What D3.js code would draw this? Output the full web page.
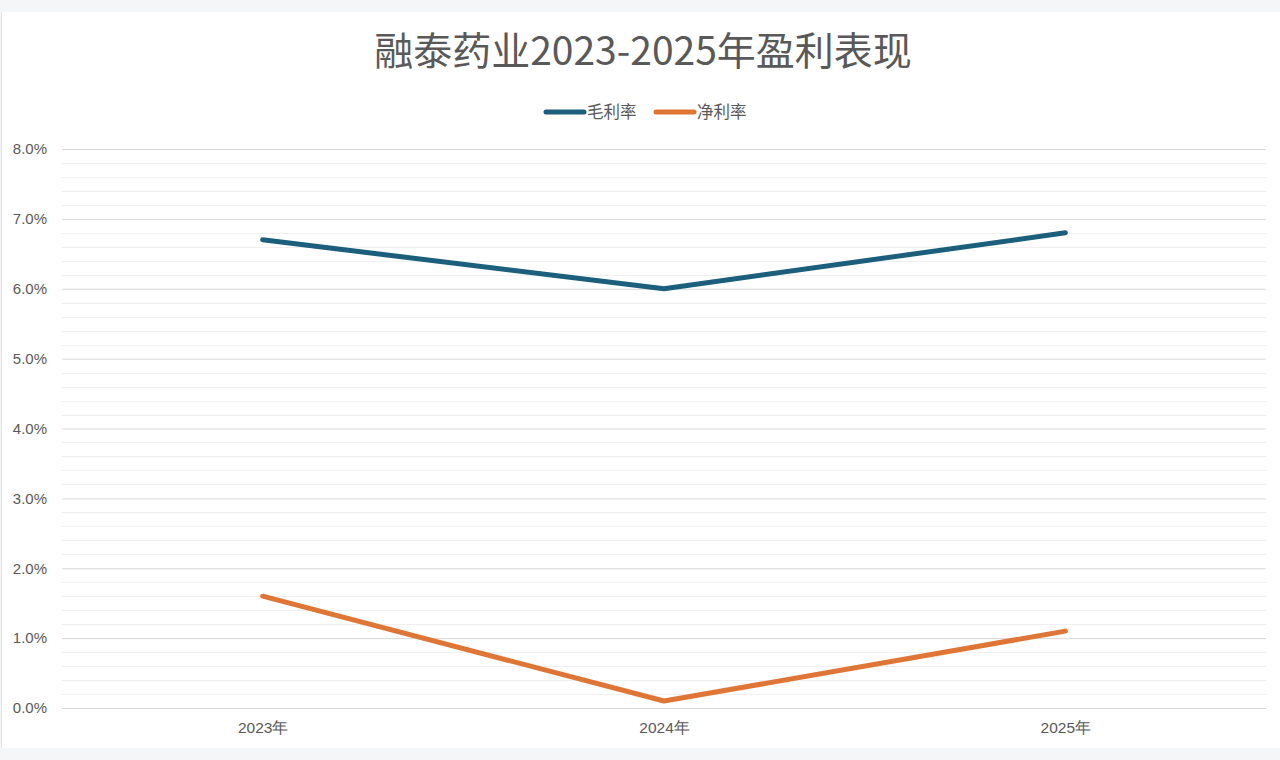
<!DOCTYPE html>
<html>
<head>
<meta charset="utf-8">
<script src="https://cdn.jsdelivr.net/npm/d3@7"></script>
<style>
  html, body { margin: 0; padding: 0; background: #f5f6f8; }
  svg { display: block; font-family: "Noto Sans CJK SC", "Noto Sans", sans-serif; }
</style>
</head>
<body>
<svg id="chart"></svg>
<script>
var years = ["2023年", "2024年", "2025年"];
var grossMargin = [6.7, 6.0, 6.8];
var netMargin = [1.6, 0.1, 1.1];
var seriesNames = ["毛利率", "净利率"];
var seriesColors = ["#1b5f7c", "#e07635"];
var majorTicks = [0, 1, 2, 3, 4, 5, 6, 7, 8];

(function() {
var WIDTH = 1280, HEIGHT = 760;
var svg = d3.select("#chart").attr("width", WIDTH).attr("height", HEIGHT);

// white panel
svg.append("rect").attr("x", 2).attr("y", 12).attr("width", WIDTH - 2).attr("height", 736)
    .attr("fill", "#ffffff");
svg.append("line").attr("x1", 1.5).attr("x2", 1.5).attr("y1", 12).attr("y2", 748)
    .attr("stroke", "#e2e4e8").attr("stroke-width", 1);

var plotL = 62, plotR = 1266, plotT = 149, plotB = 708;

var x = d3.scalePoint().domain(years).range([plotL, plotR]).padding(0.5);
var y = d3.scaleLinear().domain([0, 8]).range([plotB, plotT]);

// minor gridlines
var minor = d3.range(0, 8, 0.2).filter(function(v) { return Math.abs(v - Math.round(v)) > 0.01; });
svg.append("g").selectAll("line").data(minor).enter().append("line")
    .attr("x1", plotL).attr("x2", plotR)
    .attr("y1", function(d) { return Math.round(y(d)) + 0.5; })
    .attr("y2", function(d) { return Math.round(y(d)) + 0.5; })
    .attr("stroke", "#f0f0f0").attr("stroke-width", 1);

// major gridlines via axis
var yAxis = svg.append("g").attr("transform", "translate(" + plotL + ",0)")
    .call(d3.axisLeft(y).tickValues(majorTicks).tickSize(-(plotR - plotL)).tickPadding(15)
        .tickFormat(function(d) { return d3.format(".1f")(d) + "%"; }));
yAxis.select(".domain").remove();
yAxis.selectAll(".tick line").attr("stroke", "#d9d9d9").attr("stroke-width", 1);
yAxis.selectAll(".tick text").attr("fill", "#595959").attr("font-size", 15);

var xAxis = svg.append("g").attr("transform", "translate(0," + plotB + ")")
    .call(d3.axisBottom(x).tickSize(0).tickPadding(14));
xAxis.select(".domain").remove();
xAxis.selectAll(".tick text").attr("fill", "#595959").attr("font-size", 15.5);

// lines
var line = d3.line()
    .x(function(d, i) { return x(years[i]); })
    .y(function(d) { return y(d); });

[grossMargin, netMargin].forEach(function(vals, k) {
    svg.append("path").datum(vals)
        .attr("d", line)
        .attr("fill", "none")
        .attr("stroke", seriesColors[k])
        .attr("stroke-width", 5)
        .attr("stroke-linecap", "round")
        .attr("stroke-linejoin", "round");
});

// title
svg.append("text").attr("x", 643).attr("y", 65).attr("text-anchor", "middle")
    .attr("font-size", 39).attr("fill", "#595959")
    .text("融泰药业2023-2025年盈利表现");

// legend
var legendX = [546, 656];
seriesNames.forEach(function(name, k) {
    var g = svg.append("g").attr("transform", "translate(" + legendX[k] + ",112)");
    g.append("line").attr("x1", 0).attr("x2", 38).attr("y1", 0).attr("y2", 0)
        .attr("stroke", seriesColors[k]).attr("stroke-width", 5).attr("stroke-linecap", "round");
    g.append("text").attr("x", 41).attr("y", 6).attr("font-size", 16.5).attr("fill", "#595959")
        .text(name);
});
})();
</script>
</body>
</html>
